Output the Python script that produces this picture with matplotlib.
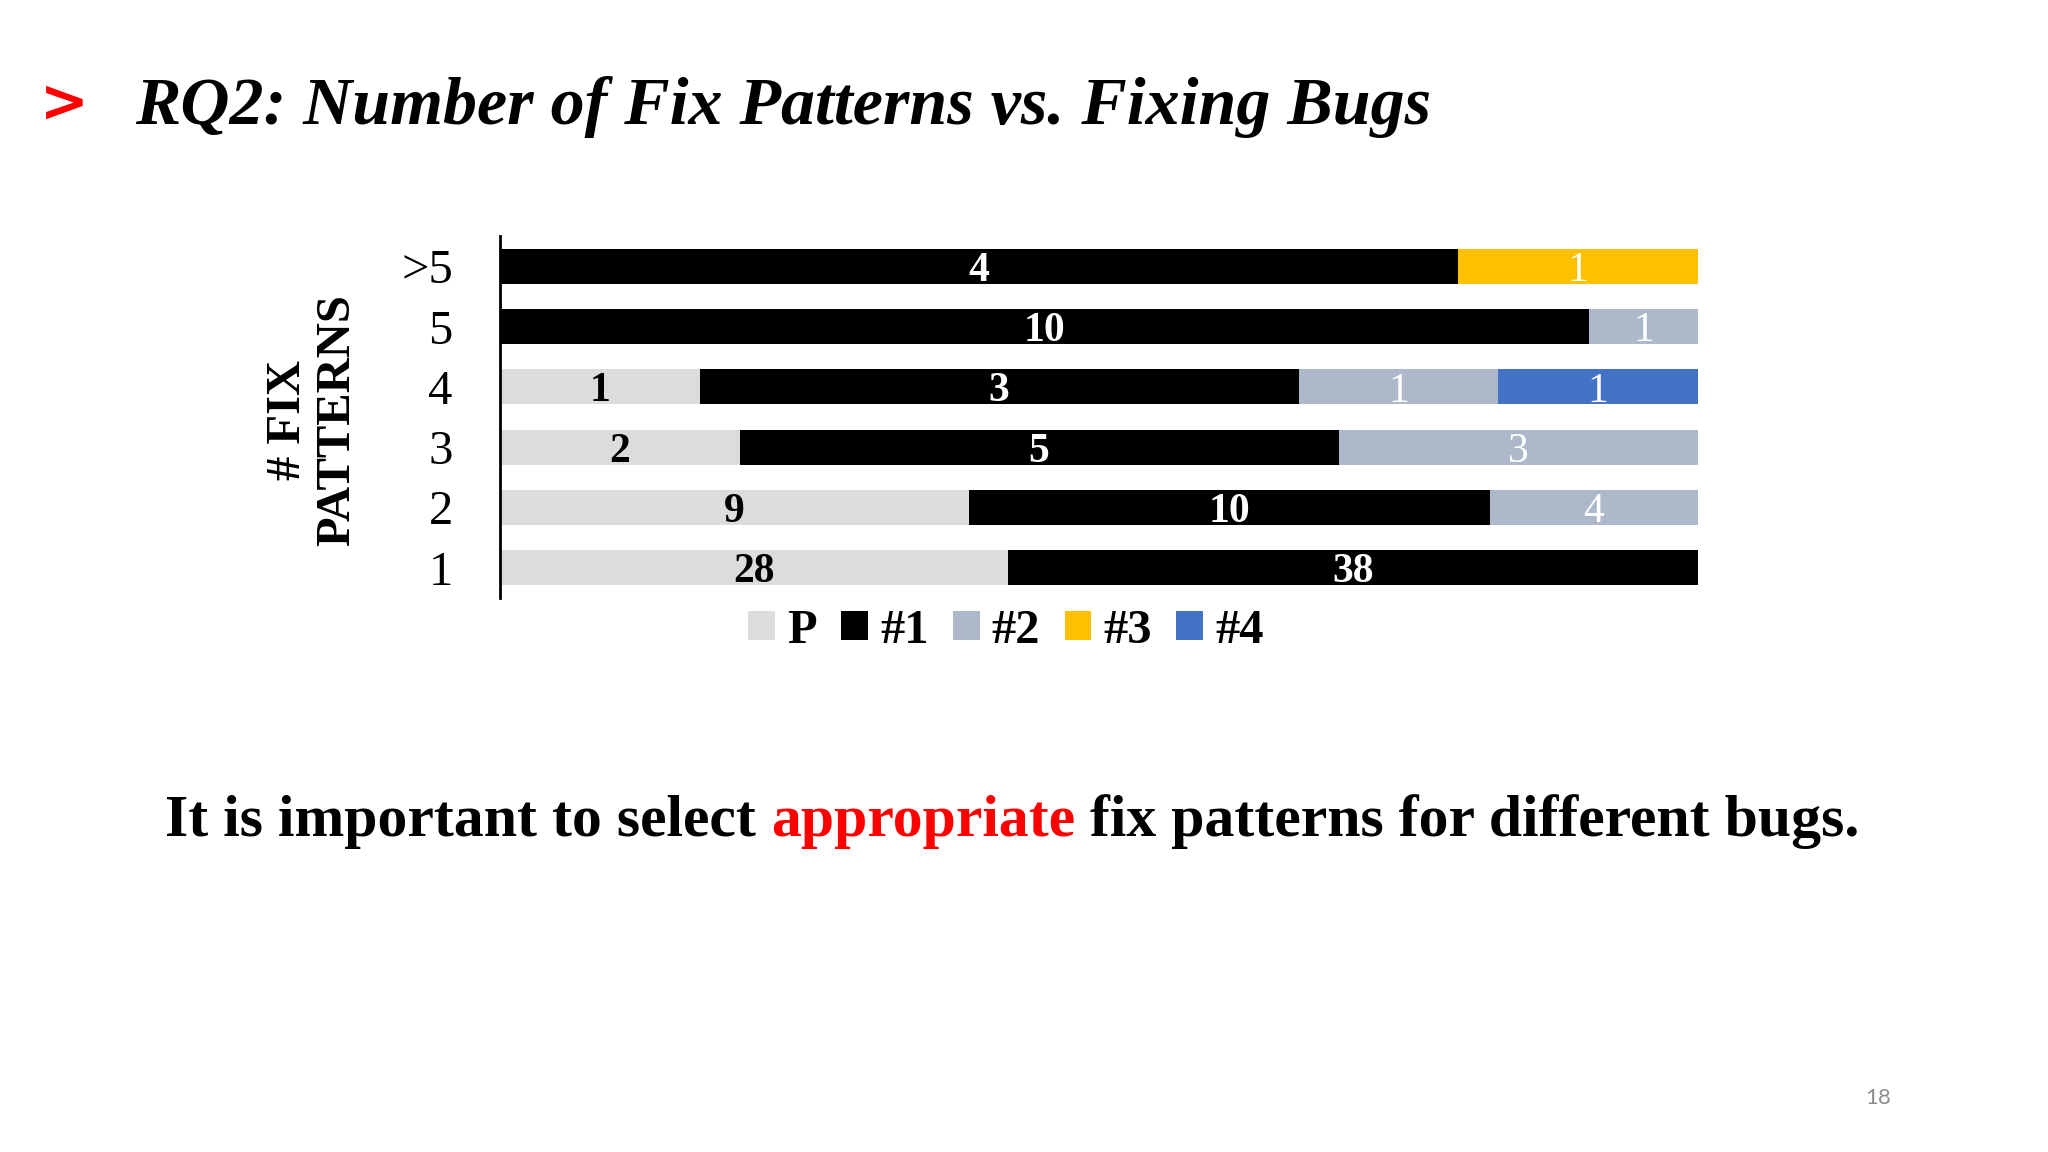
import numpy as np
import matplotlib
matplotlib.use('Agg')
import matplotlib.pyplot as plt

# Data
categories = ['1', '2', '3', '4', '5', '>5']
series_names = ['P', '#1', '#2', '#3', '#4']
p_vals = [28, 9, 2, 1, 0, 0]
fix1_vals = [38, 10, 5, 3, 10, 4]
fix2_vals = [0, 4, 3, 1, 1, 0]
fix3_vals = [0, 0, 0, 0, 0, 1]
fix4_vals = [0, 0, 0, 1, 0, 0]

colors = ['#DCDCDF', '#000000', '#ADB9CA', '#FFC000', '#4472C4']
label_colors = ['black', 'white', 'white', 'white', 'white']
label_weights = ['bold', 'bold', 'normal', 'normal', 'normal']

serif = 'Liberation Serif'

fig = plt.figure(figsize=(20.48, 11.52), dpi=100)
fig.patch.set_facecolor('white')

# Slide title
fig.text(64 / 2048, 1 - 104 / 1152, '>', color='#FF0000', fontsize=42, fontweight='bold',
         family='DejaVu Sans', ha='center', va='center')
fig.text(135 / 2048, 1 - 124 / 1152, 'RQ2: Number of Fix Patterns vs. Fixing Bugs',
         fontsize=49, fontweight='bold', fontstyle='italic', family=serif,
         ha='left', va='baseline')

# Chart
ax = fig.add_axes([500 / 2048, 1 - 598 / 1152, 1198 / 2048, 362 / 1152])
data = np.array([p_vals, fix1_vals, fix2_vals, fix3_vals, fix4_vals], dtype=float)
totals = data.sum(axis=0)
pct = data / totals * 100
y = np.arange(len(categories))
left = np.zeros(len(categories))
handles = []
for i, name in enumerate(series_names):
    bars = ax.barh(y, pct[i], left=left, height=0.58, color=colors[i], label=name)
    handles.append(bars)
    for j in range(len(categories)):
        if data[i, j] > 0:
            ax.text(left[j] + pct[i, j] / 2, y[j], str(int(data[i, j])),
                    ha='center', va='center_baseline', color=label_colors[i],
                    fontsize=30, fontweight=label_weights[i], family=serif)
    left += pct[i]

ax.set_xlim(0, 100)
ax.set_ylim(-0.5, 5.5)
ax.set_yticks(y)
ax.set_yticklabels(categories, family=serif, fontsize=35)
ax.tick_params(axis='y', length=0, pad=34)
ax.set_xticks([])
for s in ['top', 'right', 'bottom']:
    ax.spines[s].set_visible(False)
ax.spines['left'].set_linewidth(2)

fig.text(313 / 2048, 1 - 420 / 1152, '# FIX\nPATTERNS', rotation=90, ha='center', va='center',
         fontsize=35, fontweight='bold', family=serif, multialignment='center',
         linespacing=1.15)

fig.legend(handles=handles, labels=series_names, loc='center',
           bbox_to_anchor=(1006 / 2048, 1 - 631 / 1152), ncol=5, frameon=False,
           prop={'family': serif, 'weight': 'bold', 'size': 35},
           handlelength=0.55, handleheight=0.55, handletextpad=0.25, columnspacing=0.5)

# Bottom sentence with one red word
parts = [('It is important to select ', 'black'), ('appropriate', '#FF0000'),
         (' fix patterns for different bugs.', 'black')]
renderer = fig.canvas.get_renderer()
texts = []
for s, c in parts:
    t = fig.text(0, 1 - 836 / 1152, s, color=c, fontsize=43, fontweight='bold',
                 family=serif, ha='left', va='baseline')
    texts.append(t)
widths = [t.get_window_extent(renderer).width for t in texts]
x = (1012 - sum(widths) / 2) / 2048
for t, w in zip(texts, widths):
    t.set_x(x)
    x += w / 2048

fig.text(1878 / 2048, 1 - 1098 / 1152, '18', color='#8C8C8C', fontsize=16,
         family='Lato', ha='center', va='center')

fig.savefig('out.png', dpi=100)
